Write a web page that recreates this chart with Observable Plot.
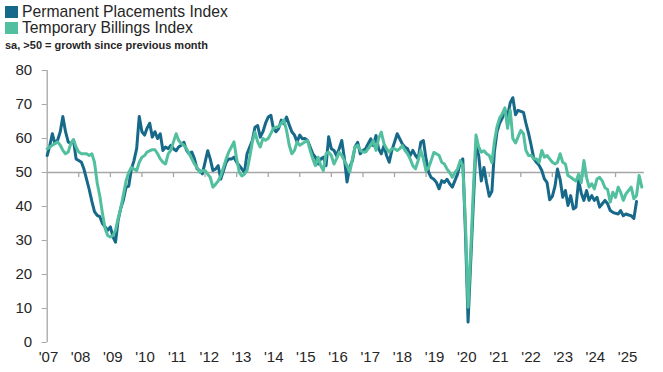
<!DOCTYPE html>
<html>
<head>
<meta charset="utf-8">
<script src="https://cdn.jsdelivr.net/npm/d3@7"></script>
<script src="https://cdn.jsdelivr.net/npm/@observablehq/plot@0.6"></script>
<style>
  html, body { margin: 0; padding: 0; background: #ffffff; }
  body { width: 663px; height: 372px; position: relative; overflow: hidden; font-family: "Liberation Sans", Arial, sans-serif; }
  .sw { position: absolute; left: 5px; width: 13px; height: 12px; }
  .lt { position: absolute; left: 22px; font-size: 15.7px; line-height: 16px; color: #262626; white-space: nowrap; }
  .sub { position: absolute; left: 5px; top: 39px; font-size: 11px; line-height: 12px; font-weight: bold; color: #262626; white-space: nowrap; }
  #chart { position: absolute; left: 0; top: 52px; }
</style>
</head>
<body>
<div class="sw" style="top:6px;background:#17698a"></div>
<div class="lt" style="top:4px">Permanent Placements Index</div>
<div class="sw" style="top:22px;background:#52bf9e"></div>
<div class="lt" style="top:20px">Temporary Billings Index</div>
<div class="sub">sa, &gt;50 = growth since previous month</div>
<div id="chart"></div>
<script>
// Monthly index values starting January 2007
const startYear = 2007;
const permanent = [
  55, 58, 61.4, 58.5, 59.5, 62, 66.5, 62, 59, 58.5, 59.5, 54,
  53.5, 53, 51, 48, 45, 41.5, 38.5, 37.4, 37, 35, 34, 33,
  34, 31, 29.5, 36, 39.5, 42, 45.6, 46, 51, 53.5, 57, 66.5,
  62, 61, 63, 64.5, 60.4, 62, 60, 61.4, 56.5, 57.5, 57, 58,
  57, 56.4, 57.5, 58, 58.9, 56.5, 55.5, 56, 54, 51.1, 50.5, 49.6,
  53, 56.4, 54, 50.6, 51, 52, 48.1, 50.5, 53, 54, 54, 54.5,
  53, 52, 51.1, 50, 55.5, 57.5, 59.4, 63.3, 63.8, 60.4, 62, 64.5,
  66.3, 66.8, 63, 62, 62.9, 65.4, 64.3, 66.3, 64, 62, 61, 59,
  61, 59.9, 60, 59.4, 57.5, 55.5, 54.5, 52.5, 54, 54.5, 52, 60.5,
  57, 56.5, 55, 57, 59.4, 54, 47.2, 51.6, 53.5, 57.5, 58.9, 55.5,
  56.5, 57, 58.4, 59.9, 57.9, 60.9, 57, 55.5, 57.9, 55, 53, 56.5,
  58.9, 61.4, 60, 58.4, 57.5, 57, 55, 56.5, 55, 54, 58.9, 59.4,
  54, 50, 48.5, 48, 47.1, 45.2, 47.6, 47.1, 48, 46.7, 45.7, 47.6,
  49.6, 53, 54, 32, 6, 24, 41, 58, 55, 47.5, 51.5, 47,
  43, 44.5, 56, 62, 64.5, 66, 68.3, 66.5, 70.5, 72, 67, 68.3,
  68, 67.7, 64.5, 61.5, 58, 54, 53, 52.1, 50.6, 48.1, 47, 42,
  43, 46, 51, 48, 42.7, 44.7, 40.3, 43.2, 39.3, 39.8, 47.6, 44,
  41.8, 44.7, 41.8, 43.2, 41.8, 42.7, 39.8, 40.8, 41.8, 40.8, 38.8, 38.3,
  38, 37.8, 38.8, 37.3, 37.8, 37.5, 37.3, 36.5, 41.5
];
const temporary = [
  57, 57.5, 58, 58.5, 59, 58, 56.5, 55.5, 56, 58.5, 59.7, 57.5,
  56, 55.5, 55.5, 55.5, 55, 55.5, 53, 47, 43, 38, 33.5, 31.5,
  31, 31.5, 33, 36.5, 39.5, 43.5, 47.5, 50, 51.5, 51, 50.5, 53,
  54.5, 55, 56, 56.4, 56.7, 56.7, 55.5, 54, 53, 52.5, 55.5, 56.5,
  59, 61.4, 59.5, 58.5, 58, 57, 55.5, 54, 52.5, 51.5, 50.1, 50.5,
  50.6, 49.5, 48.6, 45.7, 46.5, 47.5, 49, 51.5, 54, 56, 57.5, 59,
  54, 50, 49, 49.5, 50.6, 54.5, 59, 61.9, 59, 57.5, 60, 59.5,
  60, 61.5, 63, 63.3, 63.5, 64.5, 65.4, 62.4, 58, 55.5, 56.5, 59,
  58, 58.5, 59, 59.4, 56.5, 54, 52, 54.5, 52, 50.6, 55.5, 56,
  55, 52.5, 54, 56, 55, 53.5, 52, 50.1, 54, 57.5, 58, 56.5,
  56, 56, 57, 58, 59.4, 56.5, 60, 61.9, 58.5, 57, 56, 57,
  57, 56.5, 57, 57.9, 56.5, 55.5, 54, 52, 51.1, 53.5, 56.5, 54,
  50.5, 51.5, 53.5, 55.9, 55.5, 55, 53, 52.5, 51, 50, 48.6, 50,
  51.1, 53.5, 52, 35, 10.4, 27, 45, 61, 57.5, 56, 56.4, 55.5,
  55, 52.9, 59, 63.5, 66, 67.3, 69, 63, 68.3, 60, 58.7, 60.5,
  62.4, 61.4, 56.5, 55, 55, 54, 54, 53, 56.5, 54.5, 55, 54,
  53, 52.5, 53, 55.5, 53, 52.5, 49.1, 48.6, 48, 47.5, 49.5, 47,
  53.5, 48.6, 45.7, 46.7, 45.2, 48.1, 48.6, 47.5, 45.5, 45, 41.3, 44.2,
  42.7, 45.7, 44.2, 41.8, 43.7, 44.7, 45.7, 42.3, 43.2, 49.1, 45.7
];
const yTicks = [0, 10, 20, 30, 40, 50, 60, 70, 80];
const yearLabels = ["'07","'08","'09","'10","'11","'12","'13","'14","'15","'16","'17","'18","'19","'20","'21","'22","'23","'24","'25"];

const DAY = 864e5;
const monthDate = i => new Date(Date.UTC(startYear, i, 1));
const permRows = permanent.map((v, i) => ({date: monthDate(i), value: v}));
const tempRows = temporary.map((v, i) => ({date: monthDate(i), value: v}));
const yearDates = yearLabels.map((_, i) => new Date(Date.UTC(startYear + i, 0, 1)));
const startDate = yearDates[0];
// label slots on the category-style axis run slightly wider than the year ticks
const labelDates = yearLabels.map((_, i) => new Date(Date.UTC(startYear + i, 0, 1) + i * 6.94 * DAY));

const DARK = "#17698a";
const LIGHT = "#52bf9e";
const AXIS = "#a6a6a6";
const TEXT = "#262626";

const chart = Plot.plot({
  width: 663,
  height: 320,
  marginLeft: 46.7,
  marginRight: 19.1,
  marginTop: 18,
  marginBottom: 30,
  style: {fontFamily: "'Liberation Sans', Arial, sans-serif", fontSize: "15px", background: "#ffffff"},
  x: {type: "utc", domain: [startDate, new Date(Date.UTC(2025, 11, 1))], axis: null},
  y: {domain: [0, 80]},
  marks: [
    Plot.ruleY([50], {stroke: AXIS, strokeWidth: 1.3}),
    Plot.ruleX(yearDates.slice(1), {y1: 50, y2: 48.5, stroke: AXIS, strokeWidth: 1.3}),
    Plot.ruleX([startDate], {y1: 0, y2: 80, stroke: AXIS, strokeWidth: 1.3}),
    Plot.axisY({ticks: yTicks, tickSize: 5, tickPadding: 10, stroke: AXIS, fill: TEXT, fontSize: 15, label: null}),
    Plot.text(yearLabels, {x: (d, i) => labelDates[i], y: () => 0, dy: 15, dx: 1.3, text: d => d,
      fontSize: 15, fill: TEXT, lineAnchor: "middle", textAnchor: "middle"}),
    Plot.lineY(permRows, {x: "date", y: "value", stroke: DARK, strokeWidth: 3, strokeLinejoin: "round"}),
    Plot.lineY(tempRows, {x: "date", y: "value", stroke: LIGHT, strokeWidth: 3, strokeLinejoin: "round"})
  ]
});
document.getElementById("chart").appendChild(chart);
</script>
</body>
</html>
